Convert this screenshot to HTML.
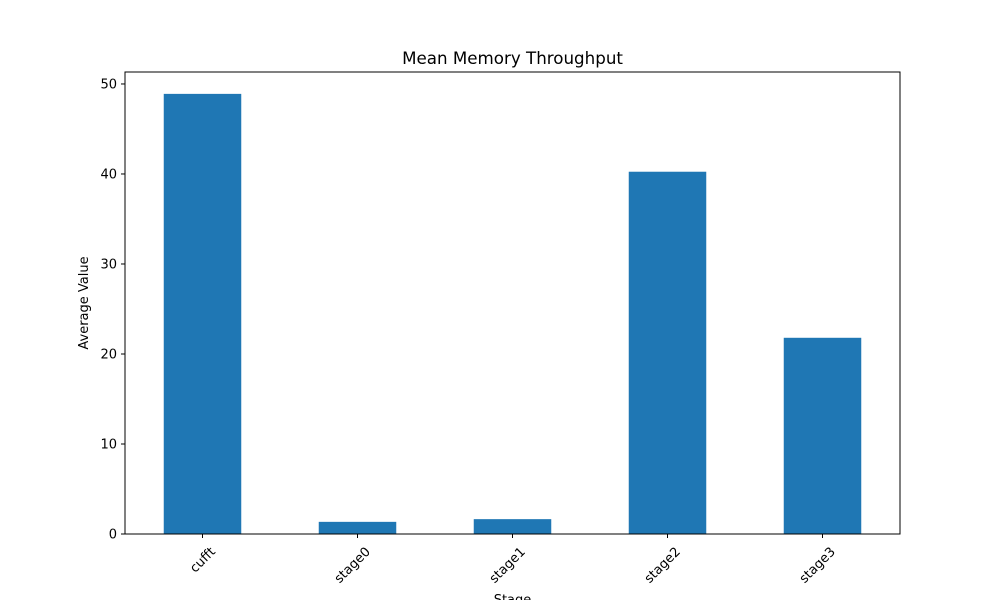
<!DOCTYPE html>
<html><head><meta charset="utf-8"><style>
body{margin:0;background:#fff}
svg{font-family:"DejaVu Sans","Liberation Sans",sans-serif}
</style></head><body>
<svg id="chart" width="1000" height="600" xmlns="http://www.w3.org/2000/svg">
<rect width="1000" height="600" fill="#fff"/>
<text x="512.5" y="64" text-anchor="middle" font-size="16.7">Mean Memory Throughput</text>
<g id="bars"></g><g id="yaxis"></g><g id="xaxis"></g>
<rect x="125" y="72" width="775" height="462" fill="none" stroke="#000" stroke-width="1"/>
<text transform="translate(88,303) rotate(-90)" text-anchor="middle" font-size="13">Average Value</text>
<text x="512.5" y="604" text-anchor="middle" font-size="13">Stage</text>
</svg>
<script>
const categories=["cufft","stage0","stage1","stage2","stage3"];
const values=[48.9,1.35,1.65,40.25,21.8];
const yTicks=[0,10,20,30,40,50];
const L=125,R=900,T=72,B=534,yMax=51.33;
const y=v=>B-(v/yMax)*(B-T);
const step=(R-L)/categories.length;
const xc=i=>L+step*(i+0.5);
const ns="http://www.w3.org/2000/svg";
function mk(t,a,p){const e=document.createElementNS(ns,t);for(const k in a)e.setAttribute(k,a[k]);p.appendChild(e);return e;}
const gb=document.getElementById('bars'),gy=document.getElementById('yaxis'),gx=document.getElementById('xaxis');
values.forEach((v,i)=>{
 const r=mk('rect',{x:xc(i)-step/4,y:y(v),width:step/2,height:B-y(v),fill:'#1f77b4'},gb);
 
 
 const tk=mk('line',{x1:xc(i),x2:xc(i),y1:B,y2:B+4,stroke:'#000'},gx);
 
 
 const lx=xc(i)+7,ly=B+12;
 const t=mk('text',{x:lx,y:ly,'text-anchor':'end','font-size':13,transform:`rotate(-45 ${lx} ${ly})`,dy:'0.7em'},gx);
 t.textContent=categories[i];
 
 
});
yTicks.forEach(v=>{
 const tk=mk('line',{x1:L-4,x2:L,y1:y(v),y2:y(v),stroke:'#000'},gy);
 
 
 const t=mk('text',{x:L-8,y:y(v)+4.5,'text-anchor':'end','font-size':13},gy);
 t.textContent=v;
 
 
});
</script>
</body></html>
